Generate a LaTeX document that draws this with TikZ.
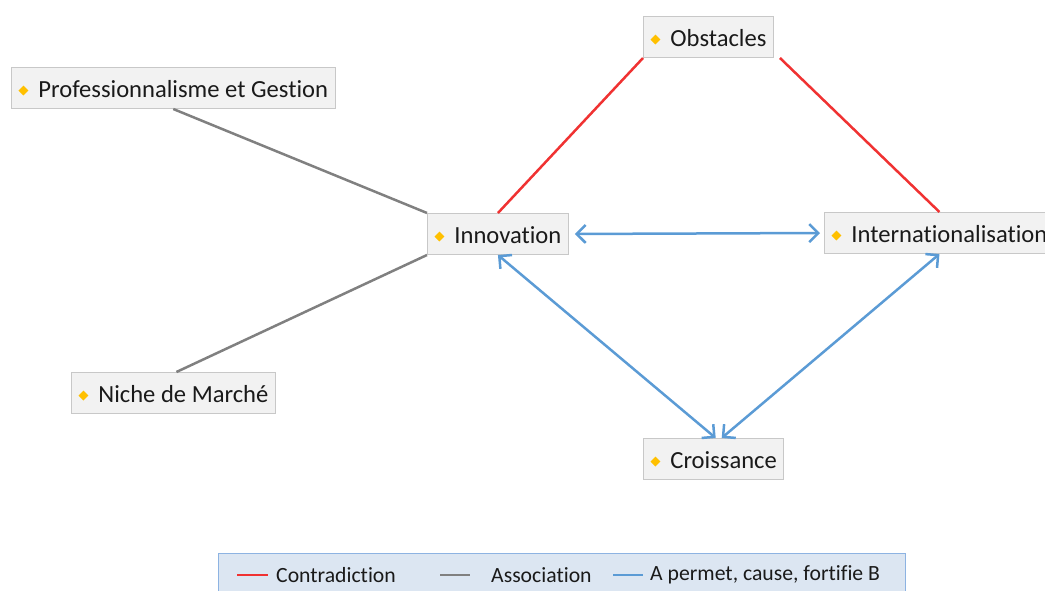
\documentclass[tikz,border=0pt]{standalone}
\usepackage{fontspec}
\setmainfont{Carlito}[Ligatures=NoCommon]
\usetikzlibrary{arrows.meta}
\definecolor{redl}{HTML}{F03232}
\definecolor{grayl}{HTML}{808080}
\definecolor{bluel}{HTML}{5B9BD5}
\definecolor{boxfill}{HTML}{F2F2F2}
\definecolor{boxdraw}{HTML}{C8C8C8}
\definecolor{dia}{HTML}{FFC000}
\definecolor{legfill}{HTML}{DCE6F2}
\definecolor{legdraw}{HTML}{8DB3E2}
\definecolor{txt}{HTML}{1A1A1A}
\newcommand\bullt{\raisebox{2pt}{\rotatebox{45}{\textcolor{dia}{\rule{7pt}{7pt}}}}\hspace{10pt}}
\begin{document}
\begin{tikzpicture}[x=1pt,y=-1pt,
 box/.style={draw=boxdraw, line width=1pt, fill=boxfill, anchor=west, minimum height=41pt, inner xsep=7pt, text height=20pt, text depth=1pt, font=\fontsize{24.6}{28}\selectfont, text=txt},
 con/.style={line width=2.5pt},
 arr/.style={con, draw=bluel, {Straight Barb[length=9pt,width=18pt]}-{Straight Barb[length=9pt,width=18pt]}},
 legtxt/.style={anchor=west, inner sep=0pt, font=\fontsize{21.7}{24}\selectfont, text=txt}]
\useasboundingbox (0,0) rectangle (1045,591);
\node[box] (prof) at (11,88) {\bullt Professionnalisme et Gestion};
\node[box] (obs) at (643,37) {\bullt Obstacles};
\node[box] (inn) at (427,234) {\bullt Innovation};
\node[box] (intl) at (824,233) {\bullt Internationalisation};
\node[box] (niche) at (71,393) {\bullt Niche de Marché};
\node[box] (cro) at (643,459) {\bullt Croissance};
\draw[con, grayl] (prof.south) -- (inn.north west);
\draw[con, grayl] (inn.south west) -- ([xshift=3pt]niche.north);
\draw[con, redl] (inn.north) -- (obs.south west);
\draw[con, redl] ([xshift=6pt]obs.south east) -- (intl.north);
\draw[arr, shorten <=6pt, shorten >=4pt] (inn.east) -- (intl.west);
\draw[arr] (inn.south) -- ([xshift=2pt]cro.north);
\draw[arr] (intl.south) -- ([xshift=8pt]cro.north);
% legend
\node[draw=legdraw, line width=1pt, fill=legfill, anchor=north west, minimum width=687pt, minimum height=50pt, inner sep=0pt] (leg) at (218,553) {};
\draw[con, redl] (237,575) -- (268,575);
\node[legtxt] (l1) at (276,575) {Contradiction};
\draw[con, grayl] (440,575) -- (470,575);
\node[legtxt] (l2) at (491,575) {Association};
\draw[con, bluel] (613,575) -- (643,575);
\node[legtxt] (l3) at (650,575) {A permet, cause, fortifie B};
\end{tikzpicture}
\end{document}
